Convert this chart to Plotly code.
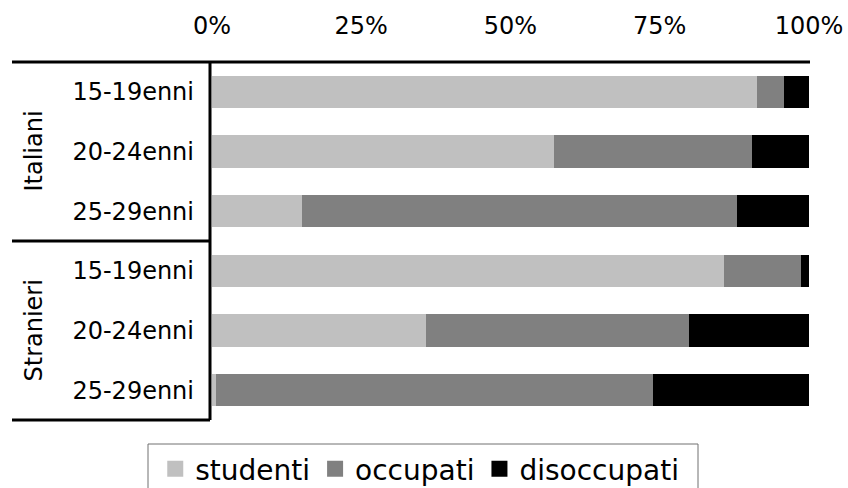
import plotly.graph_objects as go

groups = ["Italiani", "Italiani", "Italiani", "Stranieri", "Stranieri", "Stranieri"]
ages = ["15-19enni", "20-24enni", "25-29enni", "15-19enni", "20-24enni", "25-29enni"]
studenti = [91.3, 57.3, 15.0, 85.7, 35.8, 0.6]
occupati = [4.5, 33.1, 72.9, 13.0, 44.1, 73.2]
disoccupati = [4.2, 9.6, 12.1, 1.3, 20.1, 26.2]
series_names = ["studenti", "occupati", "disoccupati"]
series_colors = ["#C0C0C0", "#808080", "#000000"]
x_ticks = [0, 25, 50, 75, 100]
x_tick_labels = ["0%", "25%", "50%", "75%", "100%"]

cats = [f"{g}|{a}" for g, a in zip(groups, ages)]
FONT = "DejaVu Sans"

fig = go.Figure()
for name, vals, col in zip(series_names, [studenti, occupati, disoccupati], series_colors):
    fig.add_trace(go.Bar(y=cats, x=vals, orientation="h", name=name,
                         marker=dict(color=col, line=dict(width=0)),
                         showlegend=False))
for name, col in zip(series_names, series_colors):
    fig.add_trace(go.Scatter(x=[None], y=[None], mode="markers", name=name,
                             marker=dict(symbol="square", color=col, size=20)))

fig.update_layout(
    width=848, height=488,
    margin=dict(l=212, r=39, t=62, b=68, autoexpand=False),
    paper_bgcolor="white", plot_bgcolor="white",
    barmode="stack", bargap=0.46,
    font=dict(family=FONT, size=24, color="black"),
    xaxis=dict(range=[0, 100], side="top", tickvals=x_ticks, ticktext=x_tick_labels,
               showgrid=False, zeroline=False, showline=False, ticks="",
               ticklabelstandoff=22, tickfont=dict(size=24), fixedrange=True),
    yaxis=dict(categoryorder="array", categoryarray=cats, autorange="reversed",
               tickvals=cats, ticktext=ages, showgrid=False, zeroline=False,
               showline=False, ticks="", ticklabelstandoff=17,
               tickfont=dict(size=24)),
    legend=dict(orientation="h", x=0.495, xanchor="center", xref="container",
                y=(488 - 444) / 488, yanchor="top", yref="container",
                borderwidth=0, font=dict(size=28),
                itemwidth=30, tracegroupgap=0, traceorder="normal",
                bgcolor="rgba(0,0,0,0)"),
    showlegend=True,
)

pw = 848 - 212 - 39
ph = 420 - 62
def px(p):
    return (p - 212) / pw
def py(p):
    return (420 - p) / ph

line = dict(color="black", width=3)
fig.add_shape(type="line", xref="paper", yref="paper", x0=px(12), x1=px(810), y0=1, y1=1, line=line)
fig.add_shape(type="line", xref="paper", yref="paper", x0=px(210), x1=px(210), y0=1, y1=0, line=line)
fig.add_shape(type="line", xref="paper", yref="y", x0=px(12), x1=px(210), y0=2.5, y1=2.5, line=line)
fig.add_shape(type="line", xref="paper", yref="paper", x0=px(12), x1=px(210), y0=0, y1=0, line=line)
# legend frame
fig.add_shape(type="rect", xref="paper", yref="paper", x0=px(148), x1=px(698),
              y0=py(444), y1=py(500), line=dict(color="#707070", width=1),
              fillcolor="rgba(0,0,0,0)")

for g, yc in [("Italiani", 1), ("Stranieri", 4)]:
    fig.add_annotation(text=g, xref="paper", yref="y", x=px(33), y=yc,
                       textangle=-90, showarrow=False, font=dict(size=24),
                       xanchor="center", yanchor="middle")

fig.write_html("out.html", config={"displayModeBar": False},
               post_script="document.body.style.margin='0';document.body.style.padding='0';")
